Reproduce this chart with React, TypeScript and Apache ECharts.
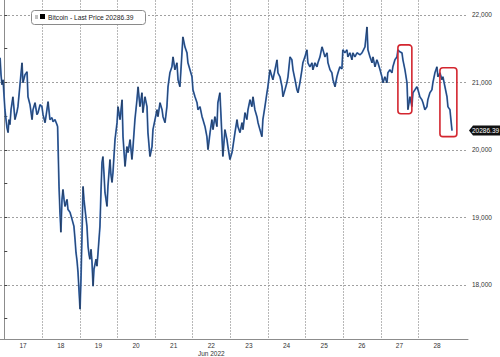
import React, { useEffect, useRef } from "react";
import * as echarts from "echarts";

// [hour of day, price] readings for each day of June 2022
const jun16: [number, number][] = [[21.3,21365],[21.9,21114],[22.5,20966],[23.2,21040],[23.8,20818]];
const jun17: [number, number][] = [[0.4,20596],[1.1,20449],[1.7,20330],[2.4,20257],[3.0,20449],[3.6,20375],[4.3,20596],[5.5,20788],[6.8,20449],[8.1,20567],[8.7,20641],[10.0,20966],[11.3,21291],[11.9,20995],[13.2,21114],[14.5,21158],[15.1,20788],[16.4,20670],[17.7,20449],[18.3,20596],[19.6,20700],[20.8,20523],[21.5,20552],[22.8,20670]];
const jun18: [number, number][] = [[0.0,20641],[0.7,20523],[2.0,20404],[3.2,20596],[3.9,20715],[5.1,20449],[6.4,20478],[7.1,20419],[8.3,20449],[9.6,20375],[10.0,20345],[10.9,19459],[11.5,19075],[12.1,18779],[12.8,19267],[13.4,19414],[14.1,19267],[14.7,19163],[16.0,19267],[16.6,19119],[17.9,19075],[19.2,18971],[20.4,18868],[21.1,18676],[21.7,18484],[22.4,18351],[23.0,18188],[23.6,17937]];
const jun19: [number, number][] = [[0.3,17641],[0.9,18085],[1.5,18676],[2.2,19459],[2.8,19267],[3.5,19119],[4.7,18868],[5.4,18572],[6.0,18454],[6.6,18380],[7.3,18528],[7.9,18351],[8.6,17981],[9.2,18232],[10.5,18380],[11.1,18277],[11.7,18454],[13.0,18868],[13.7,19414],[14.3,19813],[14.9,19902],[15.6,19636],[16.2,19370],[17.5,19163],[18.1,19459],[19.4,19858],[20.0,19636],[20.7,19518],[21.3,19666],[22.6,20153],[23.9,20404]];
const jun20: [number, number][] = [[0.5,20641],[1.8,20449],[3.1,20744],[3.7,20197],[5.0,19754],[6.2,20050],[6.9,19961],[8.2,20153],[9.4,19858],[10.1,20050],[11.3,20449],[12.6,20744],[13.3,20936],[14.5,20641],[15.8,20848],[16.4,20552],[17.7,20788],[19.0,20641],[19.6,20257],[20.9,19902],[22.2,20050],[22.8,20301]];
const jun21: [number, number][] = [[0.1,20449],[1.4,20596],[2.0,20493],[3.3,20700],[4.6,20596],[5.2,20493],[6.5,20404],[7.7,20641],[8.4,20936],[9.6,21143],[10.9,21232],[11.6,21379],[12.8,21187],[14.1,21291],[14.8,21040],[16.0,20936],[17.3,21439],[17.9,21675],[19.2,21527],[20.5,21439],[21.1,21291],[22.4,21187],[23.7,21084]];
const jun22: [number, number][] = [[0.3,20892],[1.6,20788],[2.9,20700],[3.5,20596],[4.8,20641],[6.1,20493],[6.7,20449],[8.0,20345],[9.2,20197],[9.9,20005],[11.2,20257],[12.4,20449],[13.1,20301],[14.3,20493],[15.6,20345],[16.2,20700],[17.5,20848],[18.8,20197],[19.4,19902],[20.7,20301],[22.0,20153],[22.6,20050],[23.9,19858]];
const jun23: [number, number][] = [[1.2,19961],[1.8,20050],[3.1,20257],[4.4,20449],[5.0,20345],[6.3,20257],[7.6,20404],[8.2,20301],[9.5,20552],[10.7,20449],[11.4,20596],[12.7,20744],[13.9,20641],[14.6,20788],[15.8,20596],[17.1,20493],[17.8,20404],[19.0,20301],[20.3,20197],[20.9,20449],[22.2,20641],[23.5,20848]];
const jun24: [number, number][] = [[0.1,20936],[1.4,21187],[2.7,21084],[3.3,21040],[4.6,21187],[5.9,21335],[6.5,21143],[7.8,21084],[9.1,20936],[9.7,20788],[11.0,20892],[12.2,20995],[12.9,21084],[14.2,21379],[15.4,21335],[16.1,21187],[17.4,21040],[18.6,20892],[19.3,20848],[20.5,20995],[21.8,21187],[22.4,21291],[23.7,21379]];
const jun25: [number, number][] = [[1.0,21483],[1.6,21291],[2.9,21232],[4.2,21291],[4.8,21187],[6.1,21291],[7.4,21232],[8.0,21291],[9.3,21379],[10.6,21527],[11.2,21483],[12.5,21379],[13.8,21439],[14.4,21291],[15.7,21187],[16.9,21143],[17.6,21040],[18.9,20936],[20.1,21084],[20.8,21143],[22.0,21232],[23.3,21200],[23.9,21483]];
const jun26: [number, number][] = [[1.2,21439],[2.5,21483],[3.1,21379],[4.4,21439],[5.7,21335],[6.3,21439],[7.6,21379],[8.9,21439],[10.8,21409],[12.1,21439],[14.0,21527],[15.3,21823],[15.9,21483],[17.2,21379],[18.5,21291],[19.1,21379],[20.4,21232],[21.6,21335],[22.3,21291],[23.6,21187]];
const jun27: [number, number][] = [[0.8,21084],[1.5,20995],[2.7,21084],[4.0,20995],[4.6,21143],[5.9,21187],[7.2,21143],[7.8,21232],[9.1,21335],[10.4,21379],[11.0,21483],[12.3,21453],[13.6,21439],[14.2,21335],[15.5,21187],[16.8,20995],[17.4,20596],[18.7,20788],[19.9,20641],[20.6,20848],[21.9,20892],[23.1,20936],[23.8,20892]];
const jun28: [number, number][] = [[1.0,20788],[2.3,20744],[3.0,20700],[4.2,20596],[5.5,20641],[6.1,20744],[7.4,20848],[8.7,20892],[9.3,20995],[10.6,21143],[11.9,21232],[12.5,21084],[13.8,21143],[15.1,21040],[15.7,21084],[17.0,20936],[18.3,20788],[18.9,20641],[20.2,20596],[20.8,20449],[21.5,20286.39]];

const dayNumbers = [16, 17, 18, 19, 20, 21, 22, 23, 24, 25, 26, 27, 28];
const dayReadings = [jun16, jun17, jun18, jun19, jun20, jun21, jun22, jun23, jun24, jun25, jun26, jun27, jun28];
const dayLabels = [17, 18, 19, 20, 21, 22, 23, 24, 25, 26, 27, 28];
const monthLabel = "Jun 2022";
const yLabelValues = [18000, 19000, 20000, 21000, 22000];
const yTickValues = [17500, 18000, 18500, 19000, 19500, 20000, 20500, 21000, 21500, 22000];
const seriesName = "Bitcoin - Last Price";
const lastPrice = 20286.39;
// highlighted regions: [day, hour] start / end, price high / low
const boxStarts: [number, number][] = [[27, 11.0], [28, 13.8]];
const boxEnds: [number, number][] = [[27, 19.9], [29, 0.6]];
const boxHighs = [21557, 21217];
const boxLows = [20537, 20197];

const X_MIN = -2.74;
const X_MAX = 295.7;
const Y_MIN = 17198;
const Y_MAX = 22222;

const toHours = (day: number, hour: number) => (day - 17) * 24 + hour;

export default function App() {
  const ref = useRef<HTMLDivElement>(null);
  useEffect(() => {
    if (!ref.current) return;
    const chart = echarts.init(ref.current, undefined, { renderer: "svg" });
    const data: [number, number][] = [];
    dayReadings.forEach((arr, i) => {
      arr.forEach(([h, p]) => data.push([toHours(dayNumbers[i], h), p]));
    });
    const font = "Liberation Sans";

    chart.setOption({
      animation: false,
      textStyle: { fontFamily: font },
      grid: { left: 0, right: 32, top: 0, bottom: 17 },
      xAxis: {
        type: "value",
        min: X_MIN,
        max: X_MAX,
        axisLine: { show: true, lineStyle: { color: "#8c8c8c" } },
        axisTick: { show: false },
        splitLine: { show: false },
        axisLabel: {
          customValues: dayLabels.map((d) => toHours(d, 12)),
          formatter: (v: number) => {
            const d = Math.round((v - 12) / 24) + 17;
            return d === 22 ? `${d}\n${monthLabel}` : `${d}`;
          },
          fontSize: 6.5,
          lineHeight: 8,
          color: "#333",
          margin: 2,
          fontFamily: font,
        },
      },
      yAxis: {
        type: "value",
        position: "right",
        min: Y_MIN,
        max: Y_MAX,
        axisLine: { show: true, lineStyle: { color: "#8c8c8c" } },
        axisTick: {
          show: true,
          customValues: yTickValues,
          length: 3,
          lineStyle: { color: "#444" },
        },
        axisLabel: {
          customValues: yLabelValues,
          fontSize: 6.5,
          color: "#333",
          margin: 4,
          fontFamily: font,
        },
        splitLine: { show: false },
      },
      series: [
        {
          type: "line",
          name: seriesName,
          data,
          showSymbol: false,
          lineStyle: { color: "#4279c9", width: 1.8 },
          z: 2,
        },
        {
          type: "line",
          data,
          showSymbol: false,
          lineStyle: { color: "#101010", width: 0.5 },
          z: 3,
        },
      ],
    });

    const px = (h: number, p: number) =>
      chart.convertToPixel({ gridIndex: 0 }, [h, p]) as number[];
    const graphics: any[] = [];
    const top = px(0, Y_MAX)[1];
    const bottom = px(0, Y_MIN)[1];
    const left = px(X_MIN, Y_MIN)[0];
    const right = px(X_MAX, Y_MIN)[0];
    dayLabels.forEach((d) => {
      const x = Math.round(px(toHours(d, 0), Y_MIN)[0]) + 0.5;
      graphics.push({
        type: "line",
        silent: true,
        shape: { x1: x, y1: top, x2: x, y2: bottom },
        style: { stroke: "#b8b8b8", lineWidth: 1, lineDash: [2, 1] },
      });
    });
    yLabelValues.forEach((v) => {
      const y = Math.round(px(X_MIN, v)[1]) + 0.5;
      graphics.push({
        type: "line",
        silent: true,
        shape: { x1: left, y1: y, x2: right, y2: y },
        style: { stroke: "#a0a0a0", lineWidth: 1, lineDash: [2, 2] },
      });
    });
    boxStarts.forEach((s, i) => {
      const a = px(toHours(s[0], s[1]), boxHighs[i]);
      const b = px(toHours(boxEnds[i][0], boxEnds[i][1]), boxLows[i]);
      graphics.push({
        type: "rect",
        z: 10,
        shape: { x: a[0], y: a[1], width: b[0] - a[0], height: b[1] - a[1], r: 3 },
        style: { fill: "none", stroke: "#d3262f", lineWidth: 1.6 },
      });
    });
    const tagY = px(0, lastPrice)[1];
    graphics.push({
      type: "polygon",
      z: 10,
      shape: {
        points: [
          [right + 1, tagY],
          [right + 5, tagY - 5],
          [500, tagY - 5],
          [500, tagY + 5],
          [right + 5, tagY + 5],
        ],
      },
      style: { fill: "#111" },
    });
    graphics.push({
      type: "text",
      z: 11,
      x: right + 4,
      y: tagY,
      style: {
        text: lastPrice.toFixed(2),
        fill: "#fff",
        font: `6.5px "${font}"`,
        verticalAlign: "middle",
        align: "left",
      },
    });
    // legend box
    graphics.push({
      type: "rect",
      z: 10,
      shape: { x: 31.5, y: 10.5, width: 114, height: 14, r: 3 },
      style: { fill: "#fff", stroke: "#8a8a8a", lineWidth: 1 },
    });
    graphics.push({
      type: "rect",
      z: 11,
      shape: { x: 35, y: 15, width: 3, height: 4 },
      style: { fill: "#c0c0c0" },
    });
    graphics.push({
      type: "rect",
      z: 11,
      shape: { x: 40, y: 14, width: 5, height: 5 },
      style: { fill: "#000" },
    });
    graphics.push({
      type: "text",
      z: 11,
      x: 48,
      y: 17.5,
      style: {
        text: `${seriesName} ${lastPrice.toFixed(2)}`,
        fill: "#222",
        font: `6.7px "${font}"`,
        verticalAlign: "middle",
        align: "left",
      },
    });
    chart.setOption({ graphic: graphics });

    return () => chart.dispose();
  }, []);
  return (
    <div
      ref={ref}
      style={{ position: "absolute", left: 0, top: 0, width: 500, height: 357, background: "#fff" }}
    />
  );
}
